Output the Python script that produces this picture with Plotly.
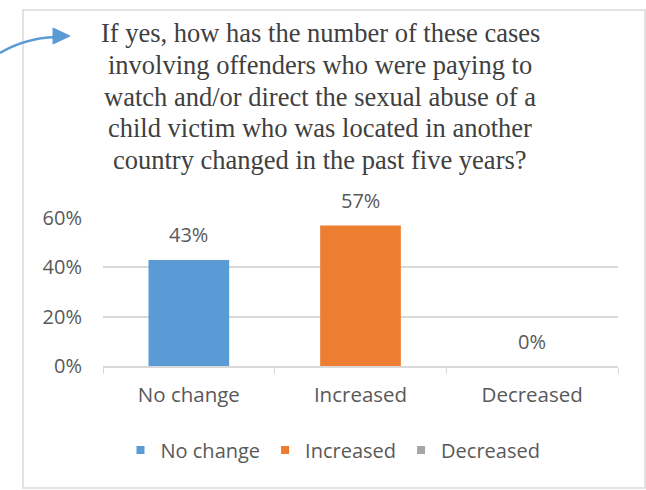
from plotly import graph_objects as go

categories = ["No change", "Increased", "Decreased"]
values = [0.43, 0.57, 0.0]
colors = ["#5B9BD5", "#ED7D31", "#A5A5A5"]
y_ticks = [0, 0.2, 0.4, 0.6]
y_tick_labels = ["0%", "20%", "40%", "60%"]
title_lines = [
    "If yes, how has the number of these cases",
    "involving offenders who were paying to",
    "watch and/or direct the sexual abuse of a",
    "child victim who was located in another",
    "country changed in the past five years?",
]

W, H = 646, 490
L, R, T, B = 103, 28, 218, 124
pw, ph = W - L - R, H - T - B


def px(x):
    return (x - L) / pw


def py(y):
    return (H - B - y) / ph


text_color = "#595959"
sans = "Open Sans"
fig = go.Figure()

for cat, val, col in zip(categories, values, colors):
    fig.add_trace(go.Bar(
        x=[cat], y=[val], name=cat, showlegend=False,
        marker={"color": col, "line": {"width": 0}},
        width=0.47,
    ))
    # small square legend entries like Excel
    fig.add_trace(go.Scatter(
        x=[None], y=[None], name=cat, mode="markers",
        marker={"symbol": "square", "size": 8, "color": col},
    ))
    fig.add_annotation(
        x=cat, y=val, text=f"{round(val * 100)}%", showarrow=False,
        yshift=25, font={"size": 20, "color": text_color, "family": sans},
    )

# title
for i, line in enumerate(title_lines):
    fig.add_annotation(
        x=px(320), y=py(33 + i * 31.8), xref="paper", yref="paper",
        text=line, showarrow=False, xanchor="center", yanchor="middle",
        font={"size": 26.5, "color": "#404040", "family": "Liberation Serif"},
    )

shapes = [
    # outer border
    {"type": "rect", "xref": "paper", "yref": "paper",
     "x0": px(23), "x1": px(645), "y0": py(488), "y1": py(10),
     "line": {"color": "#D9D9D9", "width": 1.5}, "fillcolor": "rgba(0,0,0,0)", "layer": "below"},
    # curved arrow
    {"type": "path", "xref": "paper", "yref": "paper",
     "path": f"M {px(0)},{py(53)} Q {px(25)},{py(38)} {px(56)},{py(37)}",
     "line": {"color": "#5B9BD5", "width": 2.5}},
    {"type": "path", "xref": "paper", "yref": "paper",
     "path": f"M {px(53)},{py(28)} L {px(70)},{py(36)} L {px(53)},{py(44)} Z",
     "line": {"color": "#5B9BD5", "width": 1}, "fillcolor": "#5B9BD5"},
]

fig.update_layout(
    width=W, height=H,
    margin={"l": L, "r": R, "t": T, "b": B, "pad": 0},
    paper_bgcolor="white", plot_bgcolor="white",
    barmode="overlay",
    showlegend=True,
    legend={"orientation": "h", "x": px(333), "xanchor": "center", "y": py(450), "yanchor": "middle",
            "font": {"size": 20, "color": text_color, "family": sans},
            "itemwidth": 30, "traceorder": "normal"},
    shapes=shapes,
    font={"family": sans, "color": text_color},
    xaxis={"type": "category", "tickfont": {"size": 20.5, "color": text_color},
           "showline": True, "linecolor": "#D9D9D9", "linewidth": 1.5,
           "ticks": "outside", "tickson": "boundaries", "tickcolor": "#D9D9D9", "ticklen": 6,
           "showgrid": False, "ticklabelstandoff": 10},
    yaxis={"range": [0, 0.6], "tickvals": y_ticks, "ticktext": y_tick_labels,
           "tickfont": {"size": 20, "color": text_color},
           "showgrid": True, "gridcolor": "#D9D9D9", "gridwidth": 1.5,
           "zeroline": False, "showline": False, "ticks": "", "ticklabelstandoff": 20},
)

fig.write_html("out.html", config={"displayModeBar": False},
               post_script="document.body.style.margin='0';")
